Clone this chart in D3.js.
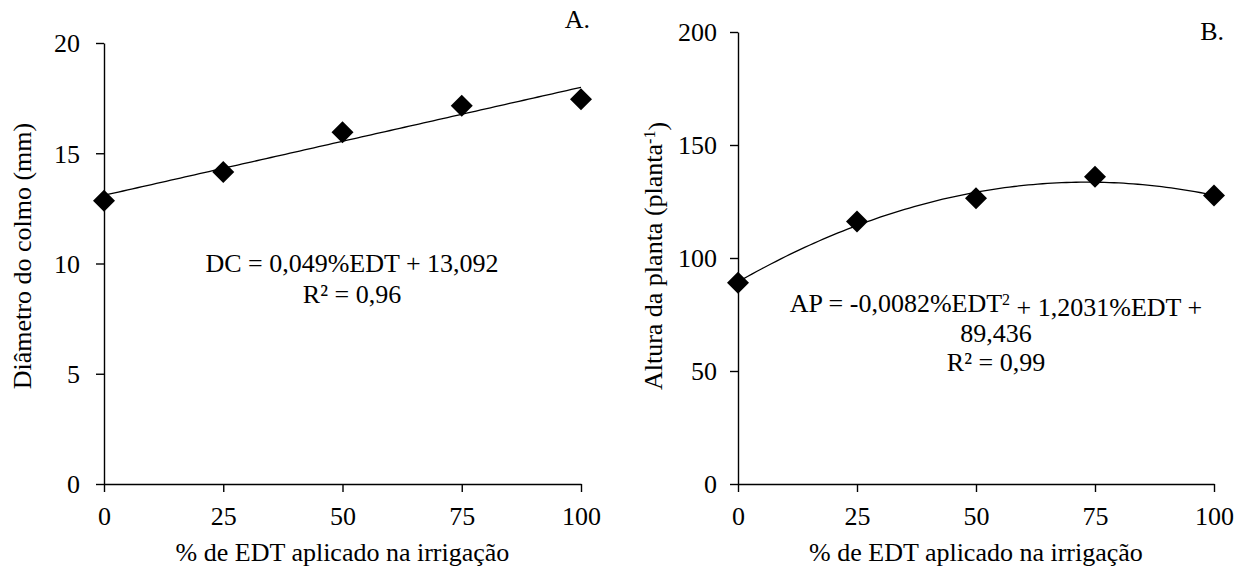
<!DOCTYPE html>
<html>
<head>
<meta charset="utf-8">
<script src="https://cdn.jsdelivr.net/npm/d3@7"></script>
<style>
  html, body { margin: 0; padding: 0; background: #fff; }
  svg text { font-family: "Liberation Serif", "Times New Roman", Times, serif; fill: #000; }
</style>
</head>
<body>
<svg id="chart" width="1240" height="567"></svg>
<script>
// Irrigation levels (% of EDT applied)
const edtLevels = [0, 25, 50, 75, 100];
const xTicks = [0, 25, 50, 75, 100];

// A. Stem diameter (mm)
const stemDiameter = [12.85, 14.15, 15.95, 17.15, 17.45];
const yTicksA = [0, 5, 10, 15, 20];
const fitA = { a: 0.049, b: 13.092 };

// B. Plant height
const plantHeight = [89.1, 116.1, 126.4, 136.0, 127.6];
const yTicksB = [0, 50, 100, 150, 200];
const fitB = { a: -0.0082, b: 1.2031, c: 89.436 };

const FONT = "'Liberation Serif', 'Times New Roman', Times, serif";
const FS = 26;
const SUP = 16;
const svg = d3.select("#chart");

function txt(sel, size = FS) {
  return sel.attr("font-family", FONT).style("font-family", FONT)
    .attr("font-size", size).style("font-size", size + "px");
}

function panel(opts) {
  const g = svg.append("g");
  const x = d3.scaleLinear().domain([0, 100]).range([opts.x0, opts.x1]);
  const y = d3.scaleLinear().domain(opts.yDomain).range([opts.y0, opts.y1]);

  const xAxis = g.append("g")
    .attr("transform", `translate(0,${opts.y0})`)
    .call(d3.axisBottom(x).tickValues(xTicks).tickSize(8).tickSizeOuter(0));
  const yAxis = g.append("g")
    .attr("transform", `translate(${opts.x0},0)`)
    .call(d3.axisLeft(y).tickValues(opts.yTicks).tickSize(8).tickSizeOuter(0).tickPadding(opts.yPad));

  [xAxis, yAxis].forEach(ax => {
    ax.attr("font-family", FONT);
    ax.select(".domain").attr("stroke", "#000").attr("stroke-width", 1.4);
    ax.selectAll(".tick line").attr("stroke", "#000").attr("stroke-width", 1.4);
    txt(ax.selectAll(".tick text").attr("fill", "#000"));
  });
  xAxis.selectAll(".tick text").attr("y", 41).attr("dy", null);
  yAxis.selectAll(".tick text").attr("dy", "0.34em");

  // fitted curve
  const fx = d3.range(0, 100.01, 1);
  g.append("path")
    .datum(fx)
    .attr("fill", "none")
    .attr("stroke", "#000")
    .attr("stroke-width", 1.3)
    .attr("d", d3.line().x(d => x(d)).y(d => y(opts.fit(d))));

  // diamond markers
  const r = 11;
  g.selectAll("path.pt")
    .data(edtLevels.map((v, i) => [v, opts.values[i]]))
    .join("path")
    .attr("class", "pt")
    .attr("fill", "#000")
    .attr("d", d => {
      const cx = x(d[0]), cy = y(d[1]);
      return `M${cx},${cy - r}L${cx + r},${cy}L${cx},${cy + r}L${cx - r},${cy}Z`;
    });

  // x axis title
  txt(g.append("text"))
    .attr("x", (opts.x0 + opts.x1) / 2)
    .attr("y", 561)
    .attr("text-anchor", "middle")
    .text("% de EDT aplicado na irrigação");

  return { g, x, y };
}

// Panel A
const A = panel({
  x0: 104, x1: 581, y0: 484, y1: 43, yPad: 16,
  yDomain: [0, 20], yTicks: yTicksA,
  values: stemDiameter,
  fit: t => fitA.a * t + fitA.b
});
txt(A.g.append("text"))
  .attr("transform", `translate(31,256) rotate(-90)`)
  .attr("text-anchor", "middle")
  .text("Diâmetro do colmo (mm)");
txt(A.g.append("text")).attr("x", 590).attr("y", 28).attr("text-anchor", "end").text("A.");
const eqA = txt(A.g.append("text")).attr("text-anchor", "middle");
eqA.append("tspan").attr("x", 352).attr("y", 272).text("DC = 0,049%EDT + 13,092");
eqA.append("tspan").attr("x", 352).attr("y", 303).text("R² = 0,96");

// Panel B
const B = panel({
  x0: 738, x1: 1214, y0: 484, y1: 32, yPad: 13,
  yDomain: [0, 200], yTicks: yTicksB,
  values: plantHeight,
  fit: t => fitB.a * t * t + fitB.b * t + fitB.c
});
const ytB = txt(B.g.append("text"))
  .attr("transform", `translate(662,256) rotate(-90)`)
  .attr("text-anchor", "middle");
ytB.append("tspan").text("Altura da planta (planta");
ytB.append("tspan").attr("dy", "-0.42em").attr("font-size", SUP).style("font-size", SUP + "px").text("-1");
ytB.append("tspan").attr("dy", "0.42em").text(")");
txt(B.g.append("text")).attr("x", 1224).attr("y", 40).attr("text-anchor", "end").text("B.");
const eqB = txt(B.g.append("text")).attr("text-anchor", "middle");
const l1 = eqB.append("tspan").attr("x", 996).attr("y", 312);
l1.append("tspan").text("AP = -0,0082%EDT");
l1.append("tspan").attr("dy", "-0.42em").attr("font-size", SUP).style("font-size", SUP + "px").text("2");
l1.append("tspan").attr("dy", "0.42em").text(" + 1,2031%EDT +");
eqB.append("tspan").attr("x", 996).attr("y", 342).text("89,436");
eqB.append("tspan").attr("x", 996).attr("y", 371).text("R² = 0,99");
</script>
</body>
</html>
